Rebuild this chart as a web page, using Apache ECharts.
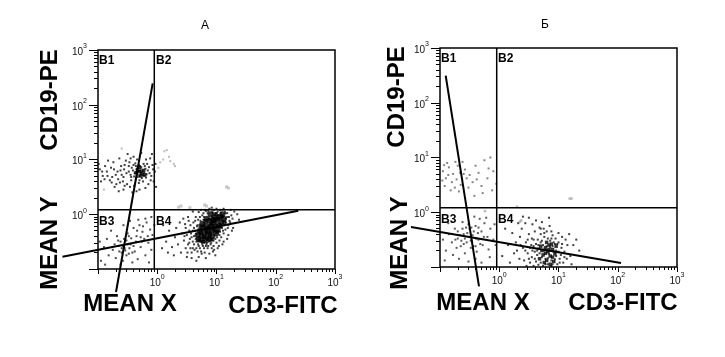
<!DOCTYPE html>
<html><head><meta charset="utf-8">
<script src="https://cdn.jsdelivr.net/npm/echarts@6/dist/echarts.min.js"></script>
<style>html,body{margin:0;padding:0;background:#fff}#c{width:725px;height:357px}</style>
</head><body><div id="c"></div>
<script>
// All values are log10 of fluorescence intensity (CD3-FITC on x, CD19-PE on y).
const panelTitles = ['А', 'Б'];
const axisRange = [-1, 3];
const overlayXRange = [-2, 3];
const majorExponents = [0, 1, 2, 3];
const decadeStarts = [-1, 0, 1, 2];
const minorMultipliers = [2, 3, 4, 5, 6, 7, 8, 9];
const quadrantLabels = ['B1', 'B2', 'B3', 'B4'];

// Panel A
const gateA = [-0.05, 0.08];
const meanXLineA = [[-0.077, 2.39], [-0.696, -1.42]];
const meanYLineA = [[-1.60, -0.775], [2.38, 0.065]];
const b1DotsA = [[-0.32,0.78],[-0.28,0.74],[-0.35,0.82],[-0.25,0.80],[-0.30,0.70],[-0.22,0.76],[-0.38,0.75],[-0.27,0.86],[-0.33,0.68],[-0.20,0.83],[-0.41,0.80],[-0.24,0.71],[-0.36,0.88],[-0.29,0.79],[-0.18,0.73],[-0.31,0.90],[-0.45,0.72],[-0.26,0.66],[-0.39,0.69],[-0.21,0.88],[-0.34,0.76],[-0.16,0.80],[-0.43,0.85],[-0.30,0.62],[-0.23,0.92],[-0.48,0.78],[-0.19,0.67],[-0.37,0.93],[-0.28,0.83],[-0.14,0.86],
[-0.62,0.80],[-0.70,0.72],[-0.55,0.90],[-0.78,0.85],[-0.66,0.64],[-0.85,0.78],[-0.92,0.70],[-0.58,0.60],[-0.74,0.95],[-0.51,0.55],[-0.88,0.88],[-0.64,1.02],[-0.97,0.82],[-0.60,0.72],[-0.80,0.62],[-0.53,0.98],[-0.46,0.50],[-0.69,0.55],[-0.40,1.05],[-0.57,0.45],[-0.12,1.02],[-0.08,0.90],[-0.10,0.70],[-0.06,0.60],[-0.15,0.55],[-0.04,0.78],[-0.20,0.48],[-0.09,1.10],[-0.35,0.42],[-0.44,0.62],[-0.72,0.50],[-0.95,0.60],[-0.83,0.98],[-0.27,1.12],[-0.50,1.10],[-0.02,0.50],[-0.30,0.45],[-0.42,0.40],[-0.65,0.42],[-0.76,0.68],[-0.99,0.92],[-0.56,0.82],[-0.47,0.95],
[-0.33,0.72],[-0.26,0.78],[-0.29,0.88],[-0.36,0.64],[-0.22,0.70],[-0.40,0.90],[-0.17,0.92],[-0.31,0.57],[-0.44,0.68],[-0.24,0.60],[-0.13,0.75],[-0.48,0.88],[-0.52,0.75],[-0.57,0.68],[-0.61,0.88],[-0.67,0.78],[-0.73,0.82],[-0.77,0.58],[-0.84,0.70],[-0.89,0.64],[-0.93,0.78],[-0.55,0.52],[-0.39,0.52],[-0.11,0.62],[-0.07,0.82],[-0.03,0.92],[-0.19,1.00],[-0.34,1.00],[-0.45,1.02],[-0.63,0.58]];
const b1CoreA = [[-0.30,0.78],[-0.26,0.74],[-0.33,0.82],[-0.23,0.80],[-0.28,0.70],[-0.36,0.76],[-0.21,0.72],[-0.31,0.86]];
const b1GreyA = [[0.02,0.85],[0.05,0.95],[0.10,1.00],[0.22,0.97],[0.28,0.92],[0.30,0.88],[0.12,1.15],[0.16,1.17],[0.20,1.05],[-0.60,1.20],[-0.90,0.45]];
const b3DotsA = [[-0.30,-0.20],[-0.25,-0.32],[-0.18,-0.15],[-0.12,-0.28],[-0.35,-0.40],[-0.22,-0.45],[-0.08,-0.38],[-0.40,-0.25],[-0.15,-0.52],[-0.28,-0.60],[-0.45,-0.55],[-0.52,-0.48],[-0.55,-0.62],[-0.60,-0.70],[-0.48,-0.72],[-0.38,-0.68],[-0.65,-0.58],[-0.70,-0.80],[-0.58,-0.85],[-0.75,-0.65],[-0.82,-0.75],[-0.90,-0.60],[-0.95,-0.85],[-0.85,-0.45],[-0.78,-0.30],[-0.68,-0.40],[-0.20,-0.08],[-0.10,-0.05],[-0.32,-0.10],[-0.05,-0.20],[-0.42,-0.88],[-0.33,-0.82],[-0.20,-0.75],[-0.10,-0.65],[-0.62,-0.92],[-0.50,-0.35],[-0.88,-0.92],[-0.97,-0.50],[-0.14,-0.88],[-0.26,-0.50],[-0.57,-0.20],[-0.46,-0.12],
[-0.62,-0.50],[-0.58,-0.58],[-0.54,-0.66],[-0.50,-0.55],[-0.47,-0.62],[-0.44,-0.44],[-0.64,-0.68],[-0.56,-0.45],[-0.40,-0.58],[-0.36,-0.50],[-0.66,-0.48],[-0.52,-0.75],[-0.60,-0.62],[-0.42,-0.70],[-0.48,-0.40],[-0.34,-0.30],[-0.24,-0.22],[-0.16,-0.40],[-0.28,-0.42],[-0.72,-0.55]];
const b4CoreA = [[0.90,-0.22],[0.95,-0.15],[0.85,-0.28],[1.00,-0.10],[0.80,-0.35],[1.05,-0.05],[0.75,-0.40],[0.92,-0.30],[0.88,-0.12],[0.98,-0.22],[0.82,-0.20],[1.08,-0.15],[0.72,-0.30],[0.96,-0.05],[0.86,-0.38],[1.02,-0.28],[0.78,-0.25],[0.93,-0.40],[0.84,-0.08],[1.10,0.00],[0.70,-0.45],[0.99,-0.35],[0.80,-0.48],[0.90,0.00],[1.12,-0.08],[0.76,-0.18],[0.68,-0.38],[1.04,-0.20],[0.88,-0.45],[0.94,-0.10]];
const b4MidA = [[0.87,-0.25],[0.91,-0.18],[0.83,-0.32],[0.97,-0.12],[0.79,-0.42],[1.03,-0.08],[0.74,-0.34],[0.89,-0.36],[0.95,-0.28],[1.07,-0.22],[0.81,-0.12],[1.09,-0.04],[0.73,-0.22],[0.99,0.00],[0.85,-0.45],[0.77,-0.50],[1.13,-0.14],[0.71,-0.48],[0.92,-0.46],[1.01,-0.32]];
const b4DotsA = [[0.60,-0.30],[0.55,-0.45],[0.62,-0.55],[0.50,-0.38],[0.66,-0.62],[0.58,-0.70],[0.70,-0.58],[0.74,-0.68],[0.68,-0.20],[0.64,-0.12],[0.72,-0.05],[0.78,0.02],[0.82,0.06],[0.88,0.10],[0.96,0.08],[1.02,0.05],[1.10,0.08],[1.15,0.02],[1.18,-0.05],[1.22,-0.12],[1.25,-0.02],[1.30,0.05],[1.20,-0.20],[1.15,-0.28],[1.12,-0.35],[1.08,-0.42],[1.05,-0.48],[1.00,-0.52],[0.95,-0.58],[0.90,-0.55],[0.85,-0.62],[0.80,-0.70],[0.76,-0.55],[0.84,-0.52],[0.98,-0.45],[1.06,-0.32],[1.16,-0.15],[0.66,-0.36],[0.62,-0.25],[0.56,-0.20],[0.52,-0.55],[0.48,-0.62],[0.45,-0.48],[0.42,-0.35],[0.40,-0.70],[0.58,-0.80],[0.70,-0.78],[0.88,-0.72],[0.94,-0.68],[1.02,-0.62],[0.78,-0.10],[0.74,0.08],[0.70,0.04],[0.92,0.12],[1.35,0.00],[1.28,-0.25],[1.38,-0.10],[0.35,-0.55],[0.30,-0.42],[0.25,-0.60],[0.20,-0.30],[0.15,-0.50],[0.10,-0.20],[0.32,-0.25],[0.38,-0.15],[0.28,-0.75],[0.18,-0.70],[0.08,-0.62],[0.44,-0.08],[0.52,-0.05],[0.60,0.05],[0.65,-0.45],[0.71,-0.48],[0.82,-0.58],[0.60,-0.62],[0.54,-0.30],[0.48,-0.25],[1.12,-0.50],[1.20,-0.38],[0.98,-0.75],[0.82,-0.80],[0.66,-0.85],[0.50,-0.78],
[0.62,-0.40],[0.64,-0.30],[0.66,-0.50],[0.67,-0.22],[0.69,-0.55],[0.71,-0.35],[0.73,-0.12],[0.74,-0.50],[0.77,-0.58],[0.79,-0.05],[0.81,-0.42],[0.83,-0.55],[0.85,0.02],[0.87,-0.50],[0.89,-0.32],[0.91,-0.52],[0.93,0.05],[0.95,-0.48],[0.97,-0.30],[0.99,0.02],[1.01,-0.42],[1.03,-0.02],[1.05,-0.38],[1.07,0.03],[1.09,-0.25],[1.11,-0.30],[1.13,-0.20],[1.14,0.05],[1.16,-0.08],[1.18,0.02],[1.19,-0.25],[1.21,-0.05],[1.23,-0.15],[0.58,-0.42],[0.60,-0.50],[0.63,-0.65],[0.68,-0.68],[0.72,-0.62],[0.75,-0.72],[0.79,-0.62],[0.86,-0.58],[0.92,-0.62],[0.57,-0.35],[0.61,-0.15],[0.65,-0.05],[0.69,-0.10],[0.76,-0.02],[0.80,0.08],[0.86,0.06],[0.94,0.02],[1.00,0.10],[1.06,0.08],[1.12,0.10],[1.24,0.08],[1.27,-0.08],[1.26,-0.30],[1.18,-0.45],[1.10,-0.55],[1.04,-0.58],[0.96,-0.65],[0.54,-0.52],[0.56,-0.62],[0.51,-0.70],[0.46,-0.40],[0.53,-0.12],[0.47,-0.18]];
const b4GreyA = [[0.36,0.13],[0.40,0.15],[0.80,0.17],[0.83,0.15],[1.17,0.50],[1.20,0.48],[0.55,0.12]];

// Panel Б
const gateB = [-0.043, 0.08];
const meanXLineB = [[-0.904, 2.494], [-0.342, -1.354]];
const meanYLineB = [[-1.489, -0.269], [2.055, -0.927]];
const b1DotsB = [[-0.95,0.75],[-0.90,0.62],[-0.85,0.82],[-0.80,0.55],[-0.92,0.48],[-0.78,0.70],[-0.72,0.60],[-0.88,0.90],[-0.70,0.85],[-0.65,0.50],[-0.82,0.40],[-0.96,0.58],[-0.75,0.45],[-0.60,0.70],[-0.58,0.78],[-0.55,0.62],[-0.50,0.68],[-0.62,0.92],[-0.68,0.38],[-0.45,0.55],[-0.40,0.85],[-0.35,0.72],[-0.30,0.48],[-0.25,0.95],[-0.20,0.62],[-0.15,1.00],[-0.12,0.40],[-0.42,0.30],[-0.86,0.68],[-0.74,0.92],[-0.93,0.86],[-0.66,0.72],[-0.52,0.45],[-0.38,0.60],[-0.18,0.80],[-0.10,0.75],[-0.28,0.35],[-0.05,0.52]];
const b3DotsB = [[-0.50,-0.30],[-0.45,-0.42],[-0.40,-0.25],[-0.35,-0.50],[-0.30,-0.35],[-0.25,-0.20],[-0.20,-0.45],[-0.15,-0.30],[-0.55,-0.55],[-0.60,-0.40],[-0.65,-0.62],[-0.70,-0.48],[-0.48,-0.65],[-0.38,-0.72],[-0.28,-0.60],[-0.18,-0.68],[-0.10,-0.50],[-0.08,-0.22],[-0.33,-0.12],[-0.42,-0.08],[-0.22,-0.10],[-0.75,-0.30],[-0.80,-0.55],[-0.85,-0.40],[-0.90,-0.70],[-0.95,-0.50],[-0.78,-0.78],[-0.68,-0.85],[-0.58,-0.75],[-0.52,-0.90],[-0.40,-0.85],[-0.30,-0.92],[-0.86,-0.20],[-0.62,-0.18],[-0.46,-0.52],[-0.36,-0.38],[-0.26,-0.45],[-0.56,-0.28],[-0.72,-0.65],[-0.92,-0.88],[-0.16,-0.82],[-0.06,-0.60],[-0.44,-0.62],[-0.32,-0.58],[-0.64,-0.52],
[-0.70,-0.35],[-0.66,-0.42],[-0.62,-0.30],[-0.58,-0.48],[-0.54,-0.38],[-0.50,-0.45],[-0.47,-0.28],[-0.43,-0.35],[-0.39,-0.48],[-0.35,-0.28],[-0.74,-0.50],[-0.60,-0.58],[-0.48,-0.52],[-0.40,-0.62],[-0.52,-0.22]];
const b4CoreB = [[0.82,-0.72],[0.78,-0.65],[0.86,-0.80],[0.90,-0.68],[0.74,-0.78],[0.80,-0.88],[0.88,-0.58],[0.70,-0.62],[0.94,-0.76],[0.76,-0.92],[0.84,-0.60],[0.92,-0.90],[0.72,-0.70],[0.86,-0.95],[0.80,-0.55],[0.96,-0.62],[0.68,-0.85],[0.90,-0.82],[0.78,-0.75],[0.84,-0.68]];
const b4DotsB = [[0.50,-0.40],[0.45,-0.55],[0.55,-0.48],[0.60,-0.35],[0.40,-0.65],[0.35,-0.45],[0.30,-0.70],[0.48,-0.75],[0.55,-0.82],[0.62,-0.90],[0.58,-0.62],[0.65,-0.50],[0.70,-0.40],[0.75,-0.30],[0.80,-0.35],[0.85,-0.25],[0.90,-0.42],[0.95,-0.48],[1.00,-0.55],[1.05,-0.65],[1.10,-0.72],[1.15,-0.60],[1.20,-0.80],[1.02,-0.85],[1.08,-0.92],[0.98,-0.95],[0.66,-0.96],[0.52,-0.92],[0.42,-0.88],[0.38,-0.30],[0.44,-0.20],[0.56,-0.22],[0.62,-0.15],[0.72,-0.18],[0.68,-0.28],[0.60,-0.72],[0.64,-0.78],[0.72,-0.52],[0.76,-0.45],[0.82,-0.48],[0.88,-0.35],[0.92,-0.55],[0.96,-0.70],[1.00,-0.38],[1.06,-0.45],[1.12,-0.50],[1.18,-0.40],[1.25,-0.60],[1.30,-0.50],[1.22,-0.95],[1.14,-0.85],[0.74,-0.98],[0.88,-0.98],[0.58,-0.98],[0.46,-0.98],[0.34,-0.85],[0.28,-0.55],[0.22,-0.38],[0.25,-0.75],[0.15,-0.60],[0.10,-0.30],[0.05,-0.80],[0.18,-0.92],[0.54,-0.60],[0.48,-0.50],[0.36,-0.60],[0.66,-0.66],[0.86,-0.52],[0.94,-0.86],[1.04,-0.78],[0.78,-0.85],[0.70,-0.92],[0.82,-0.95],[0.90,-0.62],[0.98,-0.58],[0.62,-0.58],[0.84,-0.10],[0.50,-0.10],[1.35,-0.70],[0.32,-0.20],[0.40,-0.08],
[0.80,-0.62],[0.76,-0.70],[0.84,-0.76],[0.88,-0.88],[0.72,-0.82],[0.92,-0.72],[0.68,-0.75],[0.96,-0.80],[0.82,-0.84],[0.74,-0.60],[0.86,-0.64],[0.90,-0.95],[0.78,-0.95],[0.70,-0.55],[0.94,-0.58],[0.64,-0.70],[0.60,-0.85],[1.00,-0.72],[1.02,-0.92],[0.66,-0.60],[0.58,-0.50],[0.88,-0.48],[0.76,-0.38],[0.70,-0.30],[0.52,-0.65],[0.56,-0.70],[1.06,-0.58],[1.10,-0.82],[0.44,-0.70],[0.50,-0.85]];
const greyDotsB = [[-0.24,0.02],[0.35,-0.17],[0.37,-0.15],[1.19,0.25],[1.22,0.25],[0.30,0.10]];

const minorTickValues = [];
decadeStarts.forEach(d => minorMultipliers.forEach(m => minorTickValues.push(d + Math.log10(m))));

const FONT = '"Liberation Sans", Arial, sans-serif';
const DECADE_PX = 237 / (axisRange[1] - axisRange[0]);
const grids = [
  { left: 98, top: 50, width: 237, height: 219 },
  { left: 440, top: 48, width: 237, height: 219 }
];
// invisible overlay grids sharing the same scale, so the mean lines may run past the left frame
const overlayGrids = grids.map(g => ({ left: g.left - DECADE_PX, top: g.top, width: g.width + DECADE_PX, height: g.height, show: false }));

const labelRich = {
  a: { fontSize: 10, fontFamily: FONT, color: '#111', lineHeight: 14, verticalAlign: 'bottom' },
  b: { fontSize: 7, fontFamily: FONT, color: '#111', lineHeight: 8, verticalAlign: 'top' }
};
const fmt = v => (v < 0 ? '' : '{a|10}{b|' + v + '}');

function axesFor(gi, dim) {
  const isX = dim === 'x';
  const pos = isX ? 'bottom' : 'left';
  const major = {
    type: 'value', gridIndex: gi, min: axisRange[0], max: axisRange[1], interval: 1, position: pos,
    axisLine: { show: false, onZero: false }, splitLine: { show: false },
    axisTick: { show: true, inside: false, length: isX ? 5 : 9, lineStyle: { color: '#000', width: 1 } },
    axisLabel: { show: true, formatter: fmt, rich: labelRich, margin: isX ? 5 : 11, customValues: majorExponents }
  };
  const minor = {
    type: 'value', gridIndex: gi, min: axisRange[0], max: axisRange[1], position: pos, offset: 0,
    axisLine: { show: false, onZero: false }, splitLine: { show: false }, axisLabel: { show: false },
    axisTick: { show: true, inside: false, length: isX ? 3 : 4, customValues: minorTickValues,
      lineStyle: { color: '#000', width: 1 } }
  };
  return [major, minor];
}
function overlayAxis(gi, range) {
  return { type: 'value', gridIndex: gi, min: range[0], max: range[1], show: false, axisLine: { onZero: false } };
}

const xAxes = [...axesFor(0, 'x'), ...axesFor(1, 'x'), overlayAxis(2, overlayXRange), overlayAxis(3, overlayXRange)];
const yAxes = [...axesFor(0, 'y'), ...axesFor(1, 'y'), overlayAxis(2, axisRange), overlayAxis(3, axisRange)];

function dots(gi, data, size, color, symbol) {
  return { type: 'scatter', xAxisIndex: gi * 2, yAxisIndex: gi * 2, data, symbol: symbol || 'rect',
    symbolSize: size, itemStyle: { color }, silent: true, animation: false, emphasis: { disabled: true } };
}
function seg(axisIdx, data, width) {
  return { type: 'line', xAxisIndex: axisIdx, yAxisIndex: axisIdx, data, symbol: 'none', clip: false,
    lineStyle: { color: '#000', width }, silent: true, animation: false };
}
function gateLines(gi, gate) {
  return [
    seg(gi * 2, [[gate[0], axisRange[0]], [gate[0], axisRange[1]]], 1.5),
    seg(gi * 2, [[axisRange[0], gate[1]], [axisRange[1], gate[1]]], 1.5)
  ];
}

const series = [
  dots(0, b1GreyA, 2, '#aaa'),
  dots(0, b4GreyA, 3, '#bbb'),
  dots(0, b1DotsA, 2, '#111'),
  dots(0, b1CoreA, 3.5, '#000'),
  dots(0, b3DotsA, 2, '#222'),
  dots(0, b4DotsA, 2, '#111'),
  dots(0, b4MidA, 4, '#000'),
  dots(0, b4CoreA, 6, '#000', 'circle'),
  ...gateLines(0, gateA),
  seg(4, meanXLineA, 2),
  seg(4, meanYLineA, 2),
  dots(1, greyDotsB, 2.5, '#aaa'),
  dots(1, b1DotsB, 2, '#666'),
  dots(1, b3DotsB, 2, '#333'),
  dots(1, b4DotsB, 2, '#111'),
  dots(1, b4CoreB, 3.5, '#000'),
  ...gateLines(1, gateB),
  seg(5, meanXLineB, 2),
  seg(5, meanYLineB, 2)
];

function txt(x, y, text, size, weight, opts) {
  return Object.assign({ type: 'text', x, y, silent: true,
    style: { text, font: weight + ' ' + size + 'px ' + FONT, fill: '#000',
      textAlign: (opts && opts.align) || 'center', textVerticalAlign: (opts && opts.valign) || 'middle' } },
    opts && opts.rotation ? { rotation: opts.rotation } : {});
}
const R = Math.PI / 2;
const graphic = [
  txt(205, 26, panelTitles[0], 12, 'normal'),
  txt(50, 100, 'CD19-PE', 24, 'bold', { rotation: R }),
  txt(50, 243, 'MEAN Y', 24, 'bold', { rotation: R }),
  txt(130, 304, 'MEAN X', 24, 'bold'),
  txt(283, 306, 'CD3-FITC', 24, 'bold'),
  txt(99, 55, quadrantLabels[0], 12, 'bold', { align: 'left', valign: 'top' }),
  txt(156, 55, quadrantLabels[1], 12, 'bold', { align: 'left', valign: 'top' }),
  txt(99, 216, quadrantLabels[2], 12, 'bold', { align: 'left', valign: 'top' }),
  txt(156, 216, quadrantLabels[3], 12, 'bold', { align: 'left', valign: 'top' }),
  txt(545, 25, panelTitles[1], 12, 'normal'),
  txt(397, 97, 'CD19-PE', 24, 'bold', { rotation: R }),
  txt(400, 243, 'MEAN Y', 24, 'bold', { rotation: R }),
  txt(483, 303, 'MEAN X', 24, 'bold'),
  txt(623, 303, 'CD3-FITC', 24, 'bold'),
  txt(441, 53, quadrantLabels[0], 12, 'bold', { align: 'left', valign: 'top' }),
  txt(498, 53, quadrantLabels[1], 12, 'bold', { align: 'left', valign: 'top' }),
  txt(441, 214, quadrantLabels[2], 12, 'bold', { align: 'left', valign: 'top' }),
  txt(498, 214, quadrantLabels[3], 12, 'bold', { align: 'left', valign: 'top' })
];

const chart = echarts.init(document.getElementById('c'), null, { renderer: 'canvas' });
chart.setOption({
  animation: false,
  backgroundColor: '#fff',
  grid: [
    ...grids.map(g => Object.assign({ show: true, borderColor: '#000', borderWidth: 1.5, backgroundColor: 'transparent' }, g)),
    ...overlayGrids
  ],
  xAxis: xAxes,
  yAxis: yAxes,
  series,
  graphic
});
</script></body></html>
